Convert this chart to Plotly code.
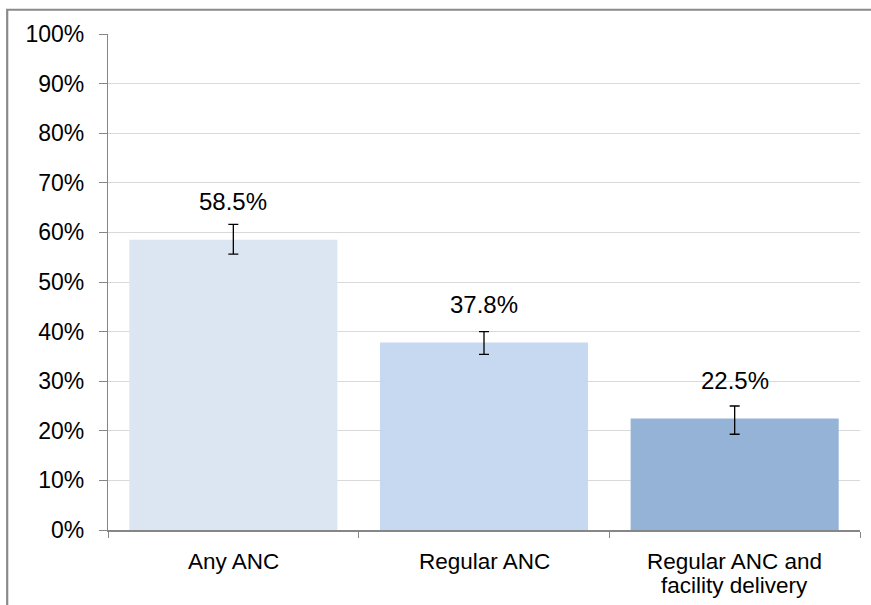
import plotly.graph_objects as go

# Antenatal care indicators with 95% confidence bounds (percent)
categories = ["Any ANC", "Regular ANC", "Regular ANC and\nfacility delivery"]
values = [58.5, 37.8, 22.5]
ci_upper = [61.6, 40.0, 25.0]
ci_lower = [55.6, 35.4, 19.3]
bar_colors = ["#dce6f2", "#c6d9f1", "#95b3d7"]
y_ticks = [0, 10, 20, 30, 40, 50, 60, 70, 80, 90, 100]

W, H = 871, 605
ML, MR, MT, MB = 108, 11, 33.5, 74.5
plot_w = W - ML - MR
plot_h = H - MT - MB

FONT = "Liberation Sans, Arial, sans-serif"
TXT = "#000000"

x_keys = [c.replace("\n", " ") for c in categories]

fig = go.Figure()
fig.add_trace(go.Bar(
    x=x_keys,
    y=values,
    width=0.83,
    marker=dict(color=bar_colors, line=dict(width=0)),
    error_y=dict(
        type="data",
        symmetric=False,
        array=[u - v for u, v in zip(ci_upper, values)],
        arrayminus=[v - l for v, l in zip(values, ci_lower)],
        color="#000000",
        thickness=1.3,
        width=5,
    ),
    hoverinfo="skip",
))

annotations = []
# value labels above each bar
for k, v in zip(x_keys, values):
    annotations.append(dict(
        x=k, y=v, xref="x", yref="y", text=f"{v}%", showarrow=False,
        yshift=38, font=dict(family=FONT, size=24, color=TXT),
    ))
# category labels below the axis, tight line spacing
for k, c in zip(x_keys, categories):
    for i, line in enumerate(c.split("\n")):
        annotations.append(dict(
            x=k, y=0, xref="x", yref="y", text=line, showarrow=False,
            yshift=-31 - 24 * i, font=dict(family=FONT, size=22.5, color=TXT),
        ))

# outer chart frame (left and top edges visible, the rest runs off the page)
def px_x(p):
    return (p - ML) / plot_w

def px_y(p):
    return (H - MB - p) / plot_h

shapes = [dict(
    type="rect", xref="paper", yref="paper",
    x0=px_x(7.2), x1=px_x(W + 20), y0=px_y(9.2), y1=px_y(H + 20),
    line=dict(color="#8a8a8a", width=2.2), fillcolor="rgba(0,0,0,0)", layer="above",
)]

fig.update_layout(
    width=W, height=H,
    margin=dict(l=ML, r=MR, t=MT, b=MB, pad=0),
    paper_bgcolor="#ffffff",
    plot_bgcolor="#ffffff",
    showlegend=False,
    bargap=0.17,
    annotations=annotations,
    shapes=shapes,
    font=dict(family=FONT, size=22, color=TXT),
    xaxis=dict(
        type="category",
        showticklabels=False,
        showgrid=False,
        showline=True, linecolor="#868686", linewidth=1.5,
        ticks="outside", ticklen=6, tickcolor="#868686", tickwidth=1,
        tickson="boundaries",
        zeroline=False,
        range=[-0.5, 2.5],
        fixedrange=True,
    ),
    yaxis=dict(
        range=[0, 100],
        tickvals=y_ticks,
        ticktext=[f"{t}%" for t in y_ticks],
        showgrid=True, gridcolor="#d9d9d9", gridwidth=1,
        showline=True, linecolor="#868686", linewidth=1.2,
        ticks="outside", ticklen=8, tickcolor="#868686", tickwidth=1,
        ticklabelstandoff=10,
        zeroline=False,
        tickfont=dict(family=FONT, size=23, color=TXT),
        fixedrange=True,
    ),
)

fig.write_html("out.html", config={"displayModeBar": False})
